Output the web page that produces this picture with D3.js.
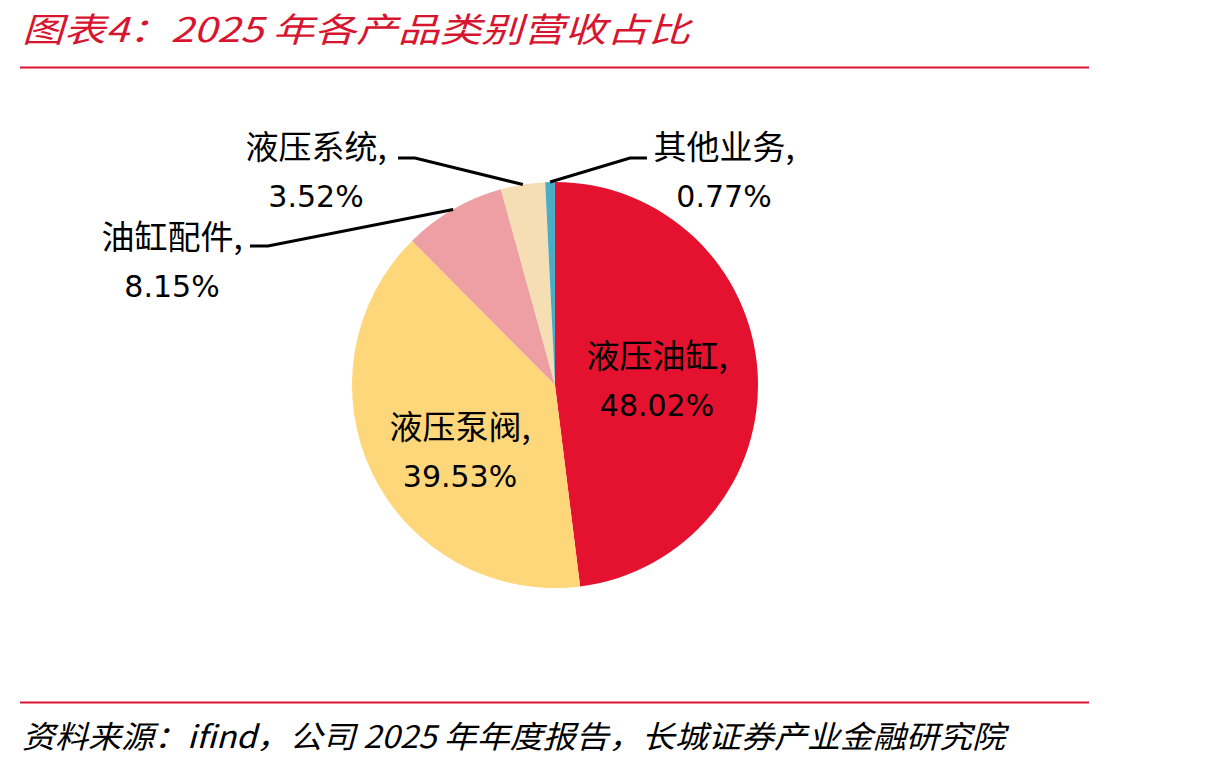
<!DOCTYPE html>
<html>
<head>
<meta charset="utf-8">
<script src="https://cdn.jsdelivr.net/npm/d3@7"></script>
<style>
  body { margin: 0; background: #fff; }
  svg text { font-family: "Noto Sans CJK SC", "DejaVu Sans", sans-serif; }
</style>
</head>
<body>
<svg width="1210" height="766"></svg>
<script>
var categories = ['液压油缸', '液压泵阀', '油缸配件', '液压系统', '其他业务'];
var shares = [48.02, 39.53, 8.15, 3.52, 0.77];
var colors = ['#E5122F', '#FFD77B', '#EE9FA3', '#F5DEB3', '#4BACC6'];
// label placement: inside labels for big slices, leader lines for small ones
var labelPos = [
  { x: 657, y: 357, inside: true },
  { x: 460, y: 428, inside: true },
  { x: 172, y: 238, elbow: [268, 246], end: [250, 246] },
  { x: 316, y: 148, elbow: [415, 158], end: [398, 158] },
  { x: 724, y: 148, elbow: [630, 158], end: [647, 158] }
];

var width = 1210, height = 766;
var cx = 555, cy = 385, radius = 203;
var red = '#D7152F';

var svg = d3.select('svg');

// title + rules
svg.append('text')
  .attr('x', 22).attr('y', 42)
  .attr('font-size', 34).attr('font-style', 'italic')
  .attr('fill', red)
  .attr('textLength', 668).attr('lengthAdjust', 'spacingAndGlyphs')
  .text('图表4：2025 年各产品类别营收占比');

svg.append('line')
  .attr('x1', 20).attr('x2', 1089).attr('y1', 67.5).attr('y2', 67.5)
  .attr('stroke', red).attr('stroke-width', 2);

svg.append('line')
  .attr('x1', 20).attr('x2', 1089).attr('y1', 702.5).attr('y2', 702.5)
  .attr('stroke', red).attr('stroke-width', 2);

svg.append('text')
  .attr('x', 22).attr('y', 748)
  .attr('font-size', 31).attr('font-style', 'italic')
  .attr('fill', '#000')
  .attr('textLength', 983).attr('lengthAdjust', 'spacingAndGlyphs')
  .text('资料来源：ifind，公司 2025 年年度报告，长城证券产业金融研究院');

var data = categories.map(function (c, i) {
  return { name: c, value: shares[i], color: colors[i], pos: labelPos[i] };
});

var pie = d3.pie().sort(null).value(function (d) { return d.value; });
var arc = d3.arc().innerRadius(0).outerRadius(radius);
var arcs = pie(data);

var g = svg.append('g').attr('transform', 'translate(' + cx + ',' + cy + ')');

g.selectAll('path')
  .data(arcs)
  .enter()
  .append('path')
  .attr('d', arc)
  .attr('fill', function (d) { return d.data.color; });

// leader lines
arcs.forEach(function (d) {
  var p = d.data.pos;
  if (p.inside) return;
  var a = (d.startAngle + d.endAngle) / 2;
  var sx = cx + radius * Math.sin(a);
  var sy = cy - radius * Math.cos(a);
  svg.append('polyline')
    .attr('points', [[sx, sy], p.elbow, p.end].map(function (q) { return q.join(','); }).join(' '))
    .attr('fill', 'none')
    .attr('stroke', '#000')
    .attr('stroke-width', 3);
});

// labels
arcs.forEach(function (d) {
  var p = d.data.pos;
  var t = svg.append('text')
    .attr('text-anchor', 'middle')
    .attr('fill', '#000');
  t.append('tspan').attr('x', p.x).attr('y', p.y + 11)
    .attr('font-size', 33)
    .text(d.data.name + ',');
  t.append('tspan').attr('x', p.x).attr('y', p.y + 59)
    .attr('font-size', 30)
    .attr('font-family', '"DejaVu Sans", sans-serif')
    .text(d.data.value.toFixed(2) + '%');
});
</script>
</body>
</html>
